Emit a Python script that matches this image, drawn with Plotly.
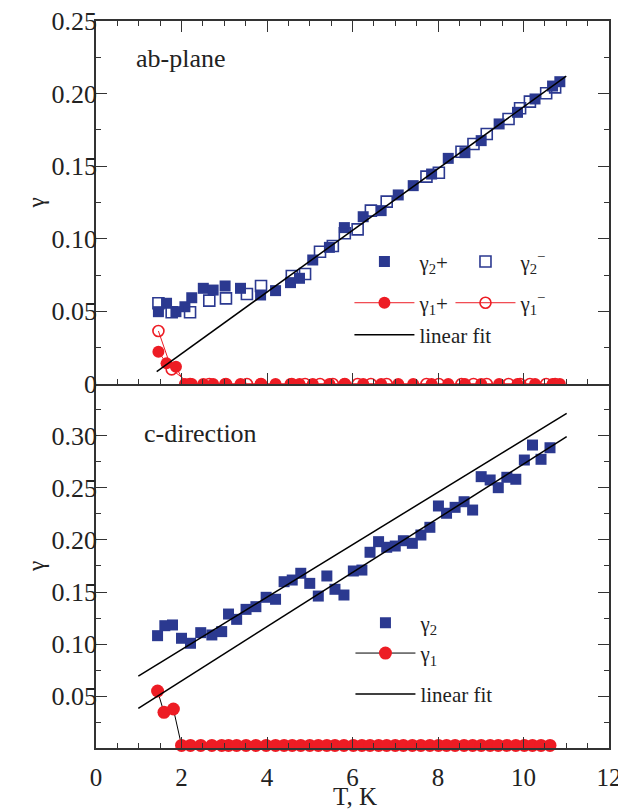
import plotly.graph_objects as go

# ---------------- data: ab-plane (top panel) ----------------
ab_g2p_T = [1.46, 1.65, 1.87, 2.08, 2.24, 2.51, 2.74, 3.02, 3.38, 3.85, 4.20, 4.55, 4.76,
            5.07, 5.46, 5.81, 6.25, 6.67, 7.07, 7.42, 7.85, 8.24, 8.63, 9.01, 9.43, 9.86,
            10.27, 10.68, 10.85]
ab_g2p = [0.0498, 0.0556, 0.0498, 0.0532, 0.0594, 0.0659, 0.0647, 0.0675, 0.0659, 0.0613,
          0.0643, 0.0698, 0.0728, 0.0854, 0.0941, 0.1077, 0.1152, 0.1194, 0.1302, 0.1366,
          0.1446, 0.1554, 0.1593, 0.1676, 0.1791, 0.1871, 0.1963, 0.2052, 0.2082]

ab_g2m_T = [1.46, 1.77, 2.20, 2.65, 3.04, 3.53, 3.86, 4.58, 4.89, 5.24, 5.54, 5.82, 6.12,
            6.43, 6.80, 7.73, 8.02, 8.55, 8.83, 9.14, 9.65, 9.92, 10.15, 10.53, 10.74]
ab_g2m = [0.0556, 0.0494, 0.0494, 0.0574, 0.0590, 0.0620, 0.0675, 0.0744, 0.0758, 0.0911,
          0.0950, 0.1038, 0.1065, 0.1194, 0.1256, 0.1428, 0.1455, 0.1600, 0.1653, 0.1722,
          0.1825, 0.1899, 0.1945, 0.2002, 0.2043]

ab_g1p_T = ab_g2p_T
ab_g1p = [0.0222, 0.0142, 0.0119] + [0.0] * (len(ab_g2p_T) - 3)

ab_g1m_T = ab_g2m_T
ab_g1m = [0.0365, 0.0101] + [0.0] * (len(ab_g2m_T) - 2)

ab_fit_T = [1.42, 11.0]
ab_fit = [0.0085, 0.212]

# ---------------- data: c-direction (bottom panel) ----------------
c_g2_T = [1.44, 1.61, 1.79, 2.00, 2.21, 2.45, 2.71, 2.94, 3.10, 3.29, 3.51, 3.74, 3.98,
          4.20, 4.40, 4.59, 4.79, 5.00, 5.20, 5.40, 5.59, 5.80, 6.02, 6.22, 6.41, 6.61,
          6.80, 7.00, 7.19, 7.40, 7.60, 7.81, 8.01, 8.20, 8.40, 8.61, 8.81, 9.01, 9.22,
          9.41, 9.61, 9.82, 10.02, 10.21, 10.41, 10.62]
c_g2 = [0.108, 0.1176, 0.1183, 0.1055, 0.1007, 0.1109, 0.1087, 0.1119, 0.1288, 0.1237,
        0.1333, 0.1359, 0.1449, 0.1430, 0.1599, 0.1615, 0.1680, 0.1583, 0.1461, 0.1654,
        0.1526, 0.1471, 0.1702, 0.1711, 0.1882, 0.1984, 0.1930, 0.1942, 0.1993, 0.1968,
        0.2048, 0.2122, 0.2327, 0.2257, 0.2314, 0.2368, 0.2288, 0.2609, 0.2577, 0.2503,
        0.2603, 0.2584, 0.2769, 0.2913, 0.2776, 0.2887]

c_g1_T = [1.44, 1.59, 1.81] + c_g2_T[3:]
c_g1 = [0.0548, 0.0343, 0.0375] + [0.0025] * (len(c_g2_T) - 3)

c_fit1_T = [0.99, 11.01]
c_fit1 = [0.0692, 0.3218]
c_fit2_T = [0.99, 11.01]
c_fit2 = [0.0382, 0.2993]

x_ticks = [0, 2, 4, 6, 8, 10, 12]
ab_yticks = [0, 0.05, 0.10, 0.15, 0.20, 0.25]
ab_yticktext = ["0", "0.05", "0.10", "0.15", "0.20", "0.25"]
c_yticks = [0.05, 0.10, 0.15, 0.20, 0.25, 0.30]
c_yticktext = ["0.05", "0.10", "0.15", "0.20", "0.25", "0.30"]

BLUE = "#2B3990"
RED = "#ED1C24"
FONT = "Liberation Serif"
TXT = "#222222"

fig = go.Figure()

# top panel traces (xaxis2 / yaxis2)
fig.add_trace(go.Scatter(x=ab_g2p_T, y=ab_g2p, mode="markers", name="γ<sub>2</sub>+",
                         marker=dict(symbol="square", size=11, color=BLUE),
                         xaxis="x2", yaxis="y2", legend="legend", legendgroup="a"))
fig.add_trace(go.Scatter(x=ab_g2m_T, y=ab_g2m, mode="markers", name="γ<sub>2</sub><sup>−</sup>",
                         marker=dict(symbol="square-open", size=11, color=BLUE, line=dict(width=1.6)),
                         xaxis="x2", yaxis="y2", legend="legend2", legendgroup="b"))
fig.add_trace(go.Scatter(x=ab_g1p_T, y=ab_g1p, mode="lines+markers", name="γ<sub>1</sub>+",
                         marker=dict(symbol="circle", size=12, color=RED),
                         line=dict(color=RED, width=1),
                         xaxis="x2", yaxis="y2", legend="legend", legendgroup="c"))
fig.add_trace(go.Scatter(x=ab_g1m_T, y=ab_g1m, mode="lines+markers", name="γ<sub>1</sub><sup>−</sup>",
                         marker=dict(symbol="circle-open", size=11, color=RED, line=dict(width=1.6)),
                         line=dict(color=RED, width=1),
                         xaxis="x2", yaxis="y2", legend="legend2", legendgroup="d"))
fig.add_trace(go.Scatter(x=ab_fit_T, y=ab_fit, mode="lines", name="linear fit",
                         line=dict(color="black", width=1.5),
                         xaxis="x2", yaxis="y2", legend="legend4", legendgroup="e"))

# bottom panel traces (xaxis / yaxis)
fig.add_trace(go.Scatter(x=c_g2_T, y=c_g2, mode="markers", name="γ<sub>2</sub>",
                         marker=dict(symbol="square", size=11, color=BLUE),
                         xaxis="x", yaxis="y", legend="legend3", legendgroup="f"))
fig.add_trace(go.Scatter(x=c_g1_T, y=c_g1, mode="lines+markers", name="γ<sub>1</sub>",
                         marker=dict(symbol="circle", size=13, color=RED),
                         line=dict(color="black", width=1), cliponaxis=False,
                         xaxis="x", yaxis="y", legend="legend3", legendgroup="g"))
fig.add_trace(go.Scatter(x=c_fit1_T, y=c_fit1, mode="lines", name="linear fit",
                         line=dict(color="black", width=1.5),
                         xaxis="x", yaxis="y", legend="legend5", legendgroup="h"))
fig.add_trace(go.Scatter(x=c_fit2_T, y=c_fit2, mode="lines", name="linear fit",
                         line=dict(color="black", width=1.5), showlegend=False,
                         xaxis="x", yaxis="y", legend="legend5", legendgroup="h"))

axis_common = dict(showline=True, linecolor="#333333", linewidth=1.5,
                   ticks="inside", ticklen=11, tickwidth=1.3, tickcolor="#333333",
                   showgrid=False, zeroline=False, automargin=False,
                   ticklabeloverflow="allow")
minor_x = dict(dtick=0.5, ticks="inside", ticklen=5, tickcolor="#333333", tickwidth=1)
minor_y = dict(dtick=0.025, tick0=0, ticks="inside", ticklen=5, tickcolor="#333333", tickwidth=1)
xfont = dict(family=FONT, size=25, color=TXT)
yfont = dict(family=FONT, size=26, color=TXT)
ytitle = dict(text="γ", font=dict(family=FONT, size=23, color=TXT), standoff=0)

SPLIT = 0.5007
leg_common = dict(xanchor="left", yanchor="top", bgcolor="rgba(0,0,0,0)",
                  font=dict(family=FONT, size=21, color=TXT), itemwidth=60)

# page body has an 8px margin: figure is shrunk and offset accordingly
fig.update_layout(
    width=618, height=801,
    margin=dict(l=88, r=17, t=13, b=61),
    plot_bgcolor="white", paper_bgcolor="white",
    font=dict(family=FONT, color=TXT),
    xaxis=dict(domain=[0, 1], range=[0, 12], anchor="y", tickvals=x_ticks, mirror=False,
               minor=minor_x, ticklabelstandoff=6, tickfont=xfont, **axis_common),
    xaxis2=dict(domain=[0, 1], range=[0, 12], anchor="y2", matches="x", showticklabels=False,
                tickvals=x_ticks, mirror="ticks", minor=minor_x, **axis_common),
    yaxis=dict(domain=[0, SPLIT], range=[0, 0.35], anchor="x", tickvals=c_yticks,
               ticktext=c_yticktext, mirror="ticks", minor=minor_y, tickfont=yfont,
               ticklabelstandoff=-8, title=ytitle, **axis_common),
    yaxis2=dict(domain=[SPLIT, 1], range=[0, 0.25], anchor="x2", tickvals=ab_yticks,
                ticktext=ab_yticktext, mirror="ticks", minor=minor_y, tickfont=yfont,
                ticklabelstandoff=-8, title=ytitle, **axis_common),
    legend=dict(x=0.494, y=0.697, traceorder="grouped", tracegroupgap=11, **leg_common),
    legend2=dict(x=0.691, y=0.697, traceorder="grouped", tracegroupgap=11, **leg_common),
    legend4=dict(x=0.494, y=0.596, traceorder="normal", **leg_common),
    legend3=dict(x=0.496, y=0.20, traceorder="normal", tracegroupgap=3, **leg_common),
    legend5=dict(x=0.496, y=0.102, traceorder="normal", **leg_common),
    annotations=[
        dict(text="ab-plane", x=0.074, y=0.949, xref="paper", yref="paper",
             xanchor="left", yanchor="middle", showarrow=False,
             font=dict(family=FONT, size=26, color=TXT)),
        dict(text="c-direction", x=0.09, y=0.433, xref="paper", yref="paper",
             xanchor="left", yanchor="middle", showarrow=False,
             font=dict(family=FONT, size=26, color=TXT)),
        dict(text="T, K", x=0.505, y=-0.0674, xref="paper", yref="paper",
             xanchor="center", yanchor="middle", showarrow=False,
             font=dict(family=FONT, size=25, color=TXT)),
    ],
)

fig.write_html("out.html")
